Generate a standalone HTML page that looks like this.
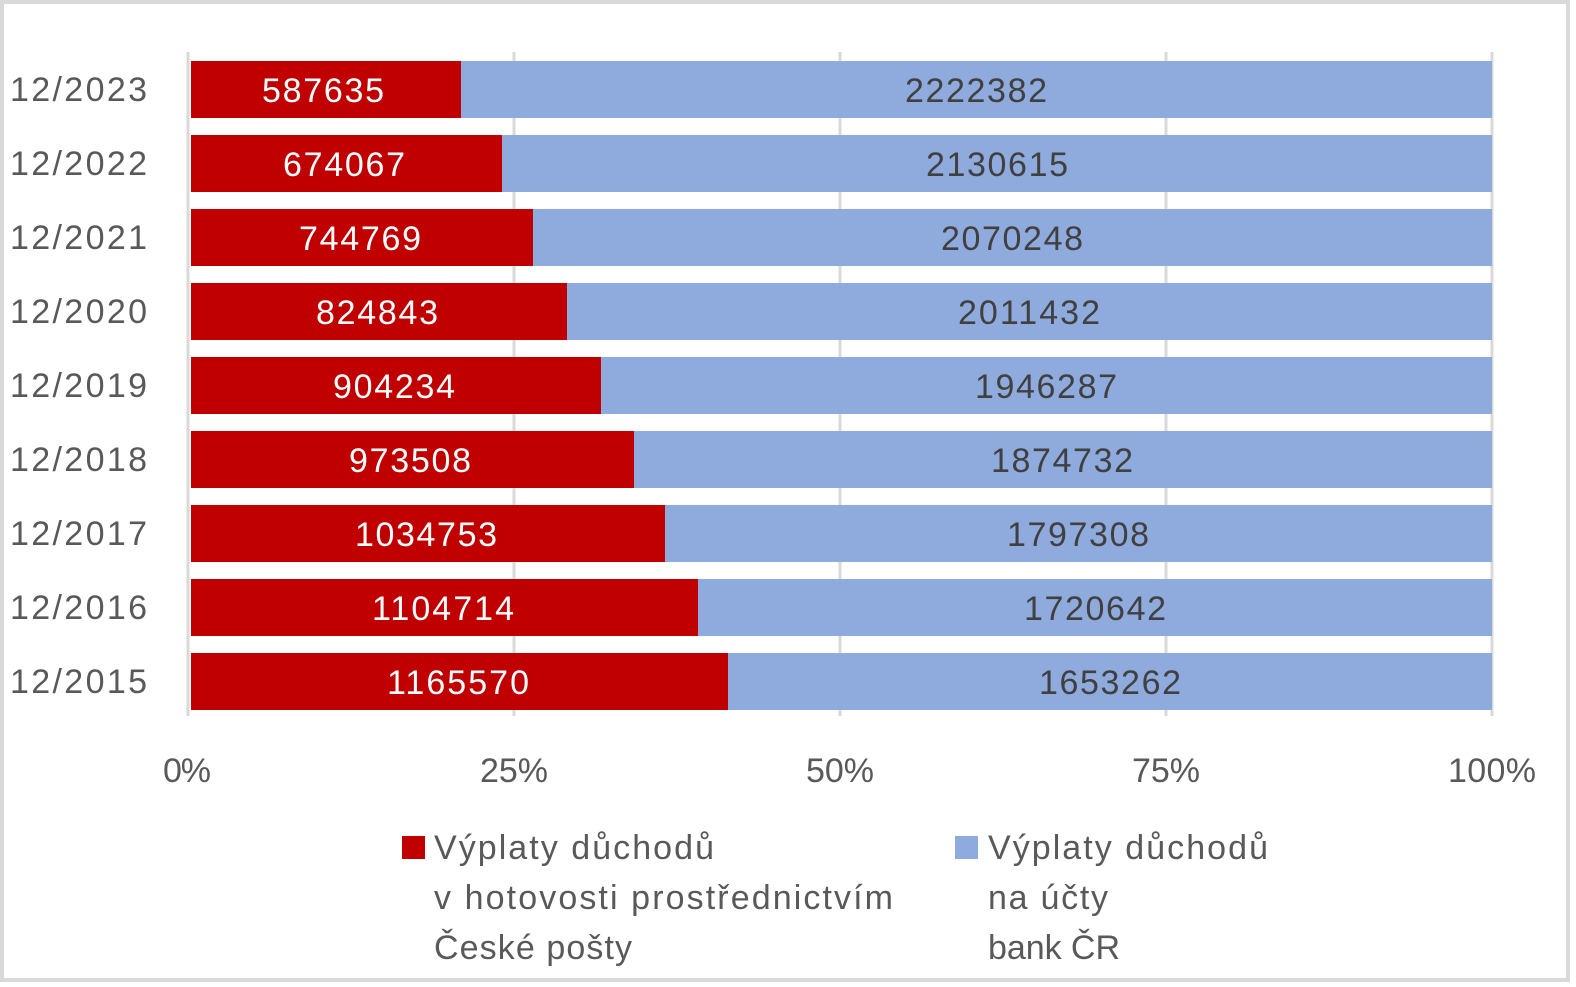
<!DOCTYPE html>
<html><head><meta charset="utf-8"><style>
html,body{margin:0;padding:0;background:#fff}
svg{display:block}
text{font-family:"Liberation Sans",sans-serif}
</style></head><body>
<svg width="1576" height="987" viewBox="0 0 1576 987" xmlns="http://www.w3.org/2000/svg">
<rect x="2" y="2" width="1566" height="978" fill="#fff" stroke="#d9d9d9" stroke-width="4"/>
<g stroke="#d9d9d9" stroke-width="3">
<line x1="188" y1="52" x2="188" y2="716"/>
<line x1="514" y1="52" x2="514" y2="716"/>
<line x1="840" y1="52" x2="840" y2="716"/>
<line x1="1166" y1="52" x2="1166" y2="716"/>
<line x1="1492" y1="52" x2="1492" y2="716"/>
</g>
<g font-size="34" lengthAdjust="spacingAndGlyphs">
<g>
<rect x="191" y="61" width="270" height="57" fill="#c00000"/><rect x="461" y="61" width="1031" height="57" fill="#8faadc"/>
<text x="323" y="102" fill="#fff" text-anchor="middle" textLength="122">587635</text><text x="976" y="102" fill="#404040" text-anchor="middle" textLength="142">2222382</text>
<text x="10" y="101" fill="#595959" textLength="137">12/2023</text>
</g>
<g>
<rect x="191" y="135" width="311" height="57" fill="#c00000"/><rect x="502" y="135" width="990" height="57" fill="#8faadc"/>
<text x="344" y="176" fill="#fff" text-anchor="middle" textLength="122">674067</text><text x="997" y="176" fill="#404040" text-anchor="middle" textLength="142">2130615</text>
<text x="10" y="175" fill="#595959" textLength="137">12/2022</text>
</g>
<g>
<rect x="191" y="209" width="342" height="57" fill="#c00000"/><rect x="533" y="209" width="959" height="57" fill="#8faadc"/>
<text x="360" y="250" fill="#fff" text-anchor="middle" textLength="122">744769</text><text x="1012" y="250" fill="#404040" text-anchor="middle" textLength="142">2070248</text>
<text x="10" y="249" fill="#595959" textLength="137">12/2021</text>
</g>
<g>
<rect x="191" y="283" width="376" height="57" fill="#c00000"/><rect x="567" y="283" width="925" height="57" fill="#8faadc"/>
<text x="377" y="324" fill="#fff" text-anchor="middle" textLength="122">824843</text><text x="1029" y="324" fill="#404040" text-anchor="middle" textLength="142">2011432</text>
<text x="10" y="323" fill="#595959" textLength="137">12/2020</text>
</g>
<g>
<rect x="191" y="357" width="410" height="57" fill="#c00000"/><rect x="601" y="357" width="891" height="57" fill="#8faadc"/>
<text x="394" y="398" fill="#fff" text-anchor="middle" textLength="122">904234</text><text x="1046" y="398" fill="#404040" text-anchor="middle" textLength="142">1946287</text>
<text x="10" y="397" fill="#595959" textLength="137">12/2019</text>
</g>
<g>
<rect x="191" y="431" width="443" height="57" fill="#c00000"/><rect x="634" y="431" width="858" height="57" fill="#8faadc"/>
<text x="410" y="472" fill="#fff" text-anchor="middle" textLength="122">973508</text><text x="1062" y="472" fill="#404040" text-anchor="middle" textLength="142">1874732</text>
<text x="10" y="471" fill="#595959" textLength="137">12/2018</text>
</g>
<g>
<rect x="191" y="505" width="474" height="57" fill="#c00000"/><rect x="665" y="505" width="827" height="57" fill="#8faadc"/>
<text x="426" y="546" fill="#fff" text-anchor="middle" textLength="142">1034753</text><text x="1078" y="546" fill="#404040" text-anchor="middle" textLength="142">1797308</text>
<text x="10" y="545" fill="#595959" textLength="137">12/2017</text>
</g>
<g>
<rect x="191" y="579" width="507" height="57" fill="#c00000"/><rect x="698" y="579" width="794" height="57" fill="#8faadc"/>
<text x="443" y="620" fill="#fff" text-anchor="middle" textLength="142">1104714</text><text x="1095" y="620" fill="#404040" text-anchor="middle" textLength="142">1720642</text>
<text x="10" y="619" fill="#595959" textLength="137">12/2016</text>
</g>
<g>
<rect x="191" y="653" width="537" height="57" fill="#c00000"/><rect x="728" y="653" width="764" height="57" fill="#8faadc"/>
<text x="458" y="694" fill="#fff" text-anchor="middle" textLength="142">1165570</text><text x="1110" y="694" fill="#404040" text-anchor="middle" textLength="142">1653262</text>
<text x="10" y="693" fill="#595959" textLength="137">12/2015</text>
</g>
<g fill="#595959">
<text x="163" y="782" textLength="48">0%</text>
<text x="480" y="782" textLength="68">25%</text>
<text x="806" y="782" textLength="68">50%</text>
<text x="1132" y="782" textLength="68">75%</text>
<text x="1448" y="782" textLength="88">100%</text>
</g>
<rect x="402" y="836" width="23" height="23" fill="#c00000"/>
<text x="434" y="859" fill="#595959" textLength="280">Výplaty důchodů</text>
<text x="434" y="909" fill="#595959" textLength="459">v hotovosti prostřednictvím</text>
<text x="434" y="959" fill="#595959" textLength="198">České pošty</text>
<rect x="955" y="836" width="23" height="23" fill="#8faadc"/>
<text x="988" y="859" fill="#595959" textLength="280">Výplaty důchodů</text>
<text x="988" y="909" fill="#595959" textLength="120">na účty</text>
<text x="988" y="959" fill="#595959" textLength="132">bank ČR</text>
</g>
</svg>
</body></html>
